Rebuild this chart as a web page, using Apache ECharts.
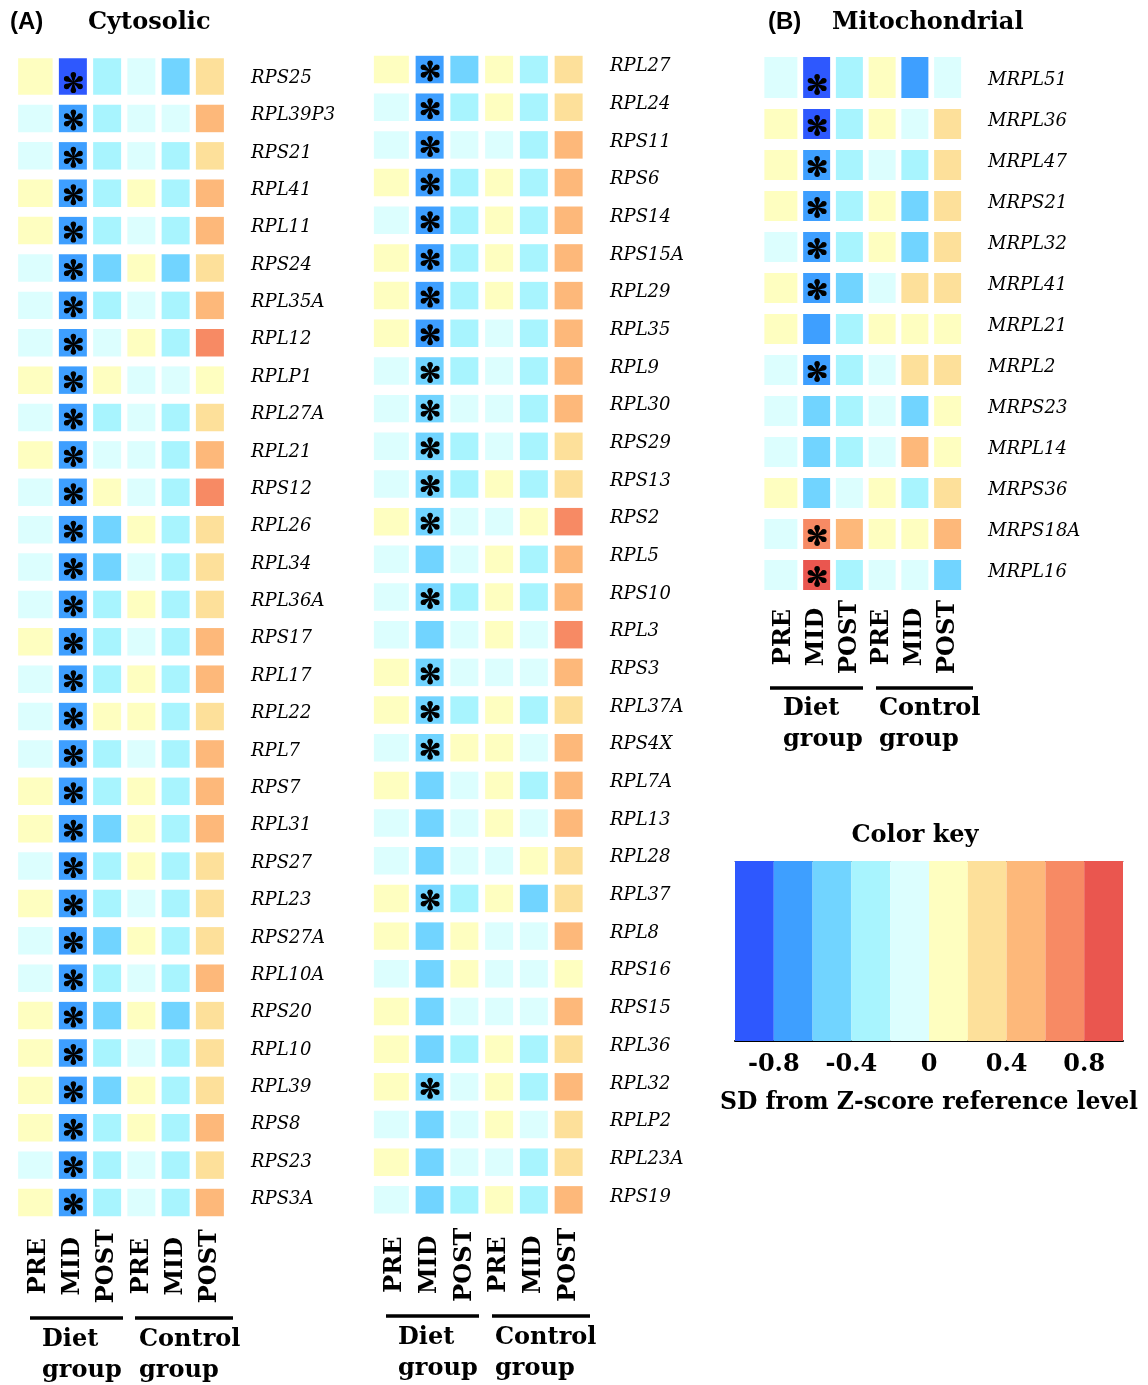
<!DOCTYPE html>
<html>
<head>
<meta charset="utf-8">
<script src="https://cdn.jsdelivr.net/npm/echarts@6.0.0/dist/echarts.min.js"></script>
<style>
html,body{margin:0;padding:0;background:#fff;}
#chart{width:1148px;height:1385px;}
</style>
</head>
<body>
<div id="chart"></div>
<script>
// ---------- data ----------
var timePoints = ['PRE', 'MID', 'POST', 'PRE', 'MID', 'POST'];

var cytoGenesA = ['RPS25','RPL39P3','RPS21','RPL41','RPL11','RPS24','RPL35A','RPL12','RPLP1','RPL27A','RPL21','RPS12','RPL26','RPL34','RPL36A','RPS17','RPL17','RPL22','RPL7','RPS7','RPL31','RPS27','RPL23','RPS27A','RPL10A','RPS20','RPL10','RPL39','RPS8','RPS23','RPS3A'];
var cytoValuesA = [
  [0.1,-0.9,-0.3,-0.1,-0.5,0.3],
  [-0.1,-0.7,-0.3,-0.1,-0.1,0.5],
  [-0.1,-0.7,-0.3,-0.1,-0.3,0.3],
  [0.1,-0.7,-0.3,0.1,-0.3,0.5],
  [0.1,-0.7,-0.3,-0.1,-0.3,0.5],
  [-0.1,-0.7,-0.5,0.1,-0.5,0.3],
  [-0.1,-0.7,-0.3,-0.1,-0.3,0.5],
  [-0.1,-0.7,-0.1,0.1,-0.3,0.7],
  [0.1,-0.7,0.1,-0.1,-0.1,0.1],
  [-0.1,-0.7,-0.3,-0.1,-0.3,0.3],
  [0.1,-0.7,-0.1,-0.1,-0.3,0.5],
  [-0.1,-0.7,0.1,-0.1,-0.3,0.7],
  [-0.1,-0.7,-0.5,0.1,-0.3,0.3],
  [-0.1,-0.7,-0.5,-0.1,-0.3,0.3],
  [-0.1,-0.7,-0.3,0.1,-0.3,0.3],
  [0.1,-0.7,-0.3,-0.1,-0.3,0.5],
  [-0.1,-0.7,-0.3,0.1,-0.3,0.5],
  [-0.1,-0.7,0.1,0.1,-0.3,0.3],
  [-0.1,-0.7,-0.3,-0.1,-0.3,0.5],
  [0.1,-0.7,-0.3,0.1,-0.3,0.5],
  [0.1,-0.7,-0.5,0.1,-0.3,0.5],
  [-0.1,-0.7,-0.3,0.1,-0.3,0.3],
  [0.1,-0.7,-0.3,-0.1,-0.3,0.3],
  [-0.1,-0.7,-0.5,0.1,-0.3,0.3],
  [-0.1,-0.7,-0.3,-0.1,-0.3,0.5],
  [0.1,-0.7,-0.5,0.1,-0.5,0.3],
  [0.1,-0.7,-0.3,-0.1,-0.3,0.3],
  [0.1,-0.7,-0.5,0.1,-0.3,0.3],
  [0.1,-0.7,-0.3,0.1,-0.3,0.5],
  [-0.1,-0.7,-0.3,-0.1,-0.3,0.3],
  [0.1,-0.7,-0.3,-0.1,-0.3,0.5]
];
var cytoSigA = [1,1,1,1,1,1,1,1,1,1,1,1,1,1,1,1,1,1,1,1,1,1,1,1,1,1,1,1,1,1,1];

var cytoGenesB = ['RPL27','RPL24','RPS11','RPS6','RPS14','RPS15A','RPL29','RPL35','RPL9','RPL30','RPS29','RPS13','RPS2','RPL5','RPS10','RPL3','RPS3','RPL37A','RPS4X','RPL7A','RPL13','RPL28','RPL37','RPL8','RPS16','RPS15','RPL36','RPL32','RPLP2','RPL23A','RPS19'];
var cytoValuesB = [
  [0.1,-0.7,-0.5,0.1,-0.3,0.3],
  [-0.1,-0.7,-0.3,0.1,-0.3,0.3],
  [-0.1,-0.7,-0.1,-0.1,-0.3,0.5],
  [0.1,-0.7,-0.3,0.1,-0.3,0.5],
  [-0.1,-0.7,-0.3,0.1,-0.3,0.5],
  [0.1,-0.7,-0.3,0.1,-0.3,0.5],
  [0.1,-0.7,-0.3,0.1,-0.3,0.5],
  [0.1,-0.7,-0.3,-0.1,-0.3,0.5],
  [-0.1,-0.5,-0.3,-0.1,-0.3,0.5],
  [-0.1,-0.5,-0.1,-0.1,-0.3,0.5],
  [-0.1,-0.5,-0.3,-0.1,-0.3,0.3],
  [-0.1,-0.5,-0.3,0.1,-0.3,0.3],
  [0.1,-0.5,-0.1,-0.1,0.1,0.7],
  [-0.1,-0.5,-0.1,0.1,-0.3,0.5],
  [-0.1,-0.5,-0.3,0.1,-0.3,0.5],
  [-0.1,-0.5,-0.1,0.1,-0.1,0.7],
  [0.1,-0.5,-0.1,-0.1,-0.1,0.5],
  [0.1,-0.5,-0.3,0.1,-0.3,0.3],
  [-0.1,-0.5,0.1,0.1,-0.1,0.5],
  [0.1,-0.5,-0.1,0.1,-0.3,0.5],
  [-0.1,-0.5,-0.1,0.1,-0.1,0.5],
  [-0.1,-0.5,-0.1,-0.1,0.1,0.3],
  [0.1,-0.5,-0.3,0.1,-0.5,0.3],
  [0.1,-0.5,0.1,-0.1,-0.1,0.5],
  [-0.1,-0.5,0.1,-0.1,-0.1,0.1],
  [0.1,-0.5,-0.1,-0.1,-0.1,0.5],
  [0.1,-0.5,-0.3,0.1,-0.3,0.3],
  [0.1,-0.5,-0.1,0.1,-0.3,0.5],
  [-0.1,-0.5,-0.1,0.1,-0.1,0.3],
  [0.1,-0.5,-0.1,-0.1,-0.3,0.3],
  [-0.1,-0.5,-0.3,0.1,-0.3,0.5]
];
var cytoSigB = [1,1,1,1,1,1,1,1,1,1,1,1,1,0,1,0,1,1,1,0,0,0,1,0,0,0,0,1,0,0,0];

var mitoGenes = ['MRPL51','MRPL36','MRPL47','MRPS21','MRPL32','MRPL41','MRPL21','MRPL2','MRPS23','MRPL14','MRPS36','MRPS18A','MRPL16'];
var mitoValues = [
  [-0.1,-0.9,-0.3,0.1,-0.7,-0.1],
  [0.1,-0.9,-0.3,0.1,-0.1,0.3],
  [0.1,-0.7,-0.3,-0.1,-0.3,0.3],
  [0.1,-0.7,-0.3,0.1,-0.5,0.3],
  [-0.1,-0.7,-0.3,0.1,-0.5,0.3],
  [0.1,-0.7,-0.5,-0.1,0.3,0.3],
  [0.1,-0.7,-0.3,0.1,0.1,0.1],
  [-0.1,-0.7,-0.3,-0.1,0.3,0.3],
  [-0.1,-0.5,-0.3,-0.1,-0.5,0.1],
  [-0.1,-0.5,-0.3,-0.1,0.5,0.1],
  [0.1,-0.5,-0.1,0.1,-0.3,0.3],
  [-0.1,0.7,0.5,0.1,0.1,0.5],
  [-0.1,0.9,-0.3,-0.1,-0.1,-0.5]
];
var mitoSig = [1,1,1,1,1,1,0,1,0,0,0,1,1];

var keyEdges = [-1,-0.8,-0.6,-0.4,-0.2,0,0.2,0.4,0.6,0.8,1];
var keyColors = ['#2e58fe','#3e9fff','#71d4ff','#a8f4fe','#dcfefe','#fefec0','#fde09a','#fdb87a','#f78a64','#ea564f'];
var keyTickLabels = ['-0.8','-0.4','0','0.4','0.8'];

// ---------- helpers ----------
var SIG_COL = 1; // stars mark the diet-group MID column
function toCells(values, sig) {
  var out = [];
  values.forEach(function (row, r) {
    row.forEach(function (v, c) {
      out.push([c, r, v, (c === SIG_COL && sig[r]) ? 1 : 0]);
    });
  });
  return out;
}

function starShape(cx, cy, r) {
  var kids = [];
  for (var k = 0; k < 6; k++) {
    var a = Math.PI / 2 + k * Math.PI / 3;
    var dx = Math.cos(a), dy = -Math.sin(a);
    var px = -dy, py = dx;
    var tipR = 2.7, d = r - tipR, w0 = 0.5;
    kids.push({type: 'polygon', shape: {points: [
      [cx + px * w0, cy + py * w0],
      [cx + dx * d + px * tipR, cy + dy * d + py * tipR],
      [cx + dx * d - px * tipR, cy + dy * d - py * tipR],
      [cx - px * w0, cy - py * w0]
    ]}, style: {fill: '#000'}});
    kids.push({type: 'circle', shape: {cx: cx + dx * d, cy: cy + dy * d, r: tipR}, style: {fill: '#000'}});
  }
  return {type: 'group', children: kids};
}

function cellRenderer(gapX, gapY, extX, extY) {
  return function (params, api) {
    var xi = api.value(0), yi = api.value(1);
    var c = api.coord([xi, yi]);
    var s = api.size([1, 1]);
    var w = s[0] - gapX, h = s[1] - gapY;
    var x0 = c[0] - w / 2, y0 = c[1] - h / 2;
    if (xi === 0) { x0 -= extX; w += extX; }
    if (yi === 0) { y0 -= extY; h += extY; }
    var children = [{type: 'rect', shape: {x: x0, y: y0, width: w, height: h}, style: {fill: api.visual('color')}}];
    if (api.value(3) === 1) children.push(starShape(c[0] + 0.5, c[1] + 1.5, 10.5));
    return {type: 'group', children: children};
  };
}

function keyRenderer(params, api) {
  var p1 = api.coord([api.value(0), 1]);
  var p2 = api.coord([api.value(1), 0]);
  return {type: 'rect', shape: {x: p1[0], y: p1[1], width: p2[0] - p1[0], height: p2[1] - p1[1]}, style: {fill: api.visual('color')}};
}

var keyData = [];
for (var i = 0; i < keyColors.length; i++) {
  keyData.push([keyEdges[i], keyEdges[i + 1], (keyEdges[i] + keyEdges[i + 1]) / 2]);
}
var pieces = keyColors.map(function (col, i) {
  return {gte: keyEdges[i], lt: keyEdges[i + 1], color: col};
});
pieces[pieces.length - 1].lte = 1; delete pieces[pieces.length - 1].lt;

function xCat(gridIndex, margin) {
  return {
    type: 'category', gridIndex: gridIndex, data: timePoints, position: 'bottom',
    axisLine: {show: false}, axisTick: {show: false}, splitLine: {show: false},
    axisLabel: {interval: 0, rotate: 90, align: 'center', verticalAlign: 'middle', margin: margin,
      fontFamily: 'DejaVu Serif', fontWeight: 'bold', fontSize: 24, color: '#000'}
  };
}
function xHidden(gridIndex) {
  return {type: 'category', gridIndex: gridIndex, data: timePoints, show: false};
}
function yCat(gridIndex, genes, showLabels) {
  return {
    type: 'category', gridIndex: gridIndex, data: genes, inverse: true, position: 'right',
    axisLine: {show: false}, axisTick: {show: false}, splitLine: {show: false},
    axisLabel: {show: showLabels, interval: 0, margin: 24, align: 'left',
      fontFamily: 'DejaVu Serif', fontStyle: 'italic', fontSize: 18, color: '#000'}
  };
}

function txt(text, x, y, extra) {
  var st = Object.assign({text: text, x: x, y: y, fill: '#000', fontFamily: 'DejaVu Serif', fontWeight: 'bold', fontSize: 24, verticalAlign: 'middle', align: 'left'}, extra || {});
  return {type: 'text', style: st, silent: true};
}
function hline(x1, x2, y) {
  return {type: 'line', shape: {x1: x1, y1: y, x2: x2, y2: y}, style: {stroke: '#000', lineWidth: 3.5}, silent: true};
}

// heatmap panel boxes; gene-name labels sit a few px above the cell centres
var LABEL_LIFT = 3;
var panels = [
  {left: 21.5, top: 62.4, width: 205.5, height: 1158.8},
  {left: 377.5, top: 50.7, width: 208.5, height: 1168},
  {left: 767.5, top: 62.5, width: 196.5, height: 533}
];
var grids = panels.map(function (p) { return Object.assign({outerBoundsMode: 'none'}, p); });
grids.push({left: 735, top: 861, width: 388, height: 180, outerBoundsMode: 'none'});
panels.forEach(function (p) {
  grids.push(Object.assign({outerBoundsMode: 'none'}, p, {top: p.top - LABEL_LIFT}));
});

var chart = echarts.init(document.getElementById('chart'), null, {renderer: 'canvas'});
chart.setOption({
  backgroundColor: '#fff',
  animation: false,
  grid: grids,
  xAxis: [
    xCat(0, 45),
    xCat(1, 46),
    xCat(2, 41.5),
    {
      type: 'value', gridIndex: 3, min: -1, max: 1, interval: 0.2, position: 'bottom',
      axisLine: {show: true, lineStyle: {color: '#000', width: 2}},
      axisTick: {show: false}, splitLine: {show: false},
      axisLabel: {margin: 12, fontFamily: 'DejaVu Serif', fontWeight: 'bold', fontSize: 24, color: '#000',
        formatter: function (v) {
          var k = Math.round(v * 10);
          if (Math.abs(k) >= 10 || k % 4 !== 0) return '';
          return keyTickLabels[k / 4 + 2];
        }},
      name: 'SD from Z-score reference level', nameLocation: 'middle', nameGap: 50,
      nameTextStyle: {fontFamily: 'DejaVu Serif', fontWeight: 'bold', fontSize: 23.5, color: '#000'}
    },
    {
      type: 'value', gridIndex: 3, min: -1, max: 1, position: 'top',
      axisLine: {show: true, lineStyle: {color: '#555', width: 1}},
      axisTick: {show: false}, axisLabel: {show: false}, splitLine: {show: false}
    },
    xHidden(4), xHidden(5), xHidden(6)
  ],
  yAxis: [
    yCat(0, cytoGenesA, false),
    yCat(1, cytoGenesB, false),
    yCat(2, mitoGenes, false),
    {type: 'value', gridIndex: 3, min: 0, max: 1, show: false},
    yCat(4, cytoGenesA, true),
    yCat(5, cytoGenesB, true),
    yCat(6, mitoGenes, true)
  ],
  visualMap: {
    type: 'piecewise', show: false, dimension: 2, seriesIndex: [0, 1, 2, 3], pieces: pieces
  },
  series: [
    {type: 'custom', xAxisIndex: 0, yAxisIndex: 0, renderItem: cellRenderer(6.25, 9.9, 6.5, 9), data: toCells(cytoValuesA, cytoSigA), encode: {x: 0, y: 1}},
    {type: 'custom', xAxisIndex: 1, yAxisIndex: 1, renderItem: cellRenderer(6.75, 10.2, 7, 0), data: toCells(cytoValuesB, cytoSigB), encode: {x: 0, y: 1}},
    {type: 'custom', xAxisIndex: 2, yAxisIndex: 2, renderItem: cellRenderer(5.75, 11, 6, 11), data: toCells(mitoValues, mitoSig), encode: {x: 0, y: 1}},
    {type: 'custom', xAxisIndex: 3, yAxisIndex: 3, renderItem: keyRenderer, data: keyData, encode: {x: [0, 1]}}
  ],
  graphic: [
    txt('(A)', 10, 22, {fontFamily: 'Liberation Sans', fontSize: 24}),
    txt('Cytosolic', 88, 23),
    txt('(B)', 768, 22, {fontFamily: 'Liberation Sans', fontSize: 24}),
    txt('Mitochondrial', 832, 23),
    txt('Color key', 915, 836, {align: 'center'}),
    hline(30, 123, 1318), hline(135, 233, 1318),
    hline(386, 479, 1316), hline(492, 590, 1316),
    hline(770, 863, 688), hline(876, 973, 688),
    txt('Diet', 42, 1340), txt('group', 42, 1371),
    txt('Control', 139, 1340), txt('group', 139, 1371),
    txt('Diet', 398, 1338), txt('group', 398, 1369),
    txt('Control', 495, 1338), txt('group', 495, 1369),
    txt('Diet', 783, 709), txt('group', 783, 740),
    txt('Control', 879, 709), txt('group', 879, 740)
  ]
});
</script>
</body>
</html>
